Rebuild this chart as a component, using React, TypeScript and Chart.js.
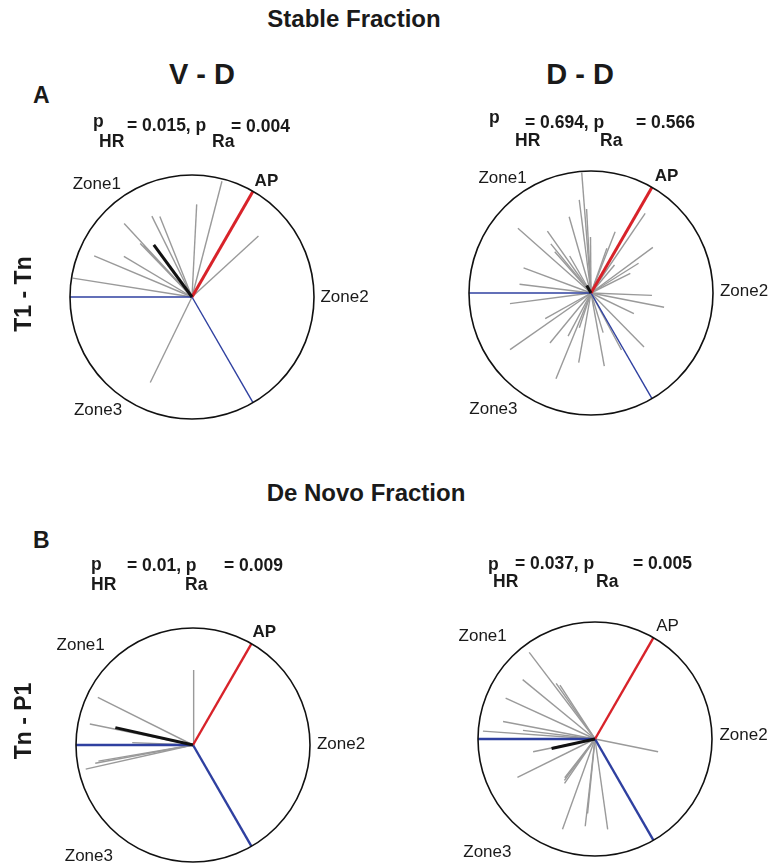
import React, { useEffect, useRef } from "react";
import { Chart, registerables } from "chart.js";

Chart.register(...registerables);

// Directions are degrees clockwise from 12 o'clock; lengths are fractions of the circle radius.
const apDirection = 30;
const zoneEdgeDirections = [150, 270];

// Stable fraction, V - D
const stableVDAngles = [14.5, 2.9, 47.4, 338.2, 333.6, 317.3, 315.9, 316.8, 292.8, 300.8, 279, 206];
const stableVDLengths = [0.98, 0.76, 0.74, 0.71, 0.74, 0.82, 0.61, 0.58, 0.87, 0.65, 0.99, 0.78];
const stableVDMean = { angle: 323.8, length: 0.53 };

// Stable fraction, D - D
const stableDDAngles = [
  355.6, 352.8, 357, 359.5, 344, 311.5, 324.8, 320.7, 318.7, 290.5, 277, 21.5, 19.5, 34.2, 53.6, 58, 63.6,
  262.5, 240.8, 235, 219.4, 202.2, 198.6, 190, 169.7, 163, 151.9, 135.5, 115.7, 101, 92.2, 208, 330, 40,
];
const stableDDLengths = [
  0.99, 0.77, 0.69, 0.46, 0.65, 0.8, 0.62, 0.52, 0.45, 0.59, 0.59, 0.54, 0.39, 0.79, 0.63, 0.46, 0.36,
  0.67, 0.43, 0.81, 0.53, 0.76, 0.3, 0.58, 0.61, 0.34, 0.53, 0.62, 0.39, 0.61, 0.5, 0.4, 0.35, 0.3,
];
const stableDDMean = { angle: 330, length: 0.07 };

// De novo fraction, V - D
const deNovoVDAngles = [0.5, 296.6, 281.5, 272.2, 259.4, 260.3, 257.3];
const deNovoVDLengths = [0.64, 0.91, 0.9, 0.52, 0.85, 0.82, 0.94];
const deNovoVDMean = { angle: 282.6, length: 0.68 };

// De novo fraction, D - D
const deNovoDDAngles = [322.8, 309.4, 325.1, 327, 294.6, 280.8, 274, 276.8, 101.4, 258.4, 243.6, 214.5, 216.5, 218, 199.8, 186.4, 185.7, 172];
const deNovoDDLengths = [0.93, 0.8, 0.58, 0.55, 0.84, 0.8, 0.96, 0.62, 0.55, 0.54, 0.74, 0.46, 0.44, 0.42, 0.82, 0.75, 0.64, 0.78];
const deNovoDDMean = { angle: 257.6, length: 0.38 };

const FONT = '"Liberation Sans", Arial, Helvetica, sans-serif';
const GRAY = "#9a9a9a";
const RED = "#d8232a";
const BLUE = "#2f40a0";
const MEAN = "#111111";

type Vec = { angle: number; length: number };
type LabelPos = [number, number];

interface PanelProps {
  cx: number;
  cy: number;
  r: number;
  angles: number[];
  lengths: number[];
  mean: Vec;
  edgeWidth: number;
  apWidth: number;
  apBold: boolean;
  labels: { zone1: LabelPos; ap: LabelPos; zone2: LabelPos; zone3: LabelPos };
}

const PAD = 60;

function toXY(angle: number, length: number) {
  const t = (angle * Math.PI) / 180;
  return { x: length * Math.sin(t), y: length * Math.cos(t) };
}

function ray(angle: number, length: number, color: string, width: number, order: number) {
  return {
    data: [{ x: 0, y: 0 }, toXY(angle, length)],
    showLine: true,
    borderColor: color,
    borderWidth: width,
    pointRadius: 0,
    pointHoverRadius: 0,
    clip: 6,
    order,
  };
}

function CirclePanel(props: PanelProps) {
  const ref = useRef<HTMLCanvasElement | null>(null);
  const size = 2 * (props.r + PAD);

  useEffect(() => {
    if (!ref.current) return;
    const datasets: any[] = [];
    props.angles.forEach((a, i) => datasets.push(ray(a, props.lengths[i], GRAY, 1.4, 4)));
    zoneEdgeDirections.forEach((a) => datasets.push(ray(a, 1, BLUE, props.edgeWidth, 2)));
    datasets.push(ray(apDirection, 1, RED, props.apWidth, 1));
    datasets.push(ray(props.mean.angle, props.mean.length, MEAN, 3, 0));

    const labels = props.labels;
    const ringAndLabels = {
      id: "ringAndLabels",
      afterDatasetsDraw(chart: any) {
        const ctx = chart.ctx as CanvasRenderingContext2D;
        const xs = chart.scales.x;
        const ys = chart.scales.y;
        const x0 = xs.getPixelForValue(0);
        const y0 = ys.getPixelForValue(0);
        const rad = xs.getPixelForValue(1) - x0;
        ctx.save();
        ctx.beginPath();
        ctx.arc(x0, y0, rad, 0, Math.PI * 2);
        ctx.strokeStyle = "#111";
        ctx.lineWidth = 1.6;
        ctx.stroke();
        ctx.fillStyle = "#1a1a1a";
        ctx.textAlign = "center";
        ctx.textBaseline = "middle";
        const put = (text: string, p: LabelPos, bold: boolean) => {
          ctx.font = `${bold ? "bold " : ""}17px ${FONT}`;
          ctx.fillText(text, xs.getPixelForValue(p[0]), ys.getPixelForValue(p[1]));
        };
        put("Zone1", labels.zone1, false);
        put("AP", labels.ap, props.apBold);
        put("Zone2", labels.zone2, false);
        put("Zone3", labels.zone3, false);
        ctx.restore();
      },
    };

    const chart = new Chart(ref.current, {
      type: "scatter",
      data: { datasets },
      options: {
        responsive: false,
        animation: false,
        devicePixelRatio: 1,
        layout: { padding: PAD },
        scales: {
          x: { type: "linear", min: -1, max: 1, display: false },
          y: { type: "linear", min: -1, max: 1, display: false },
        },
        plugins: { legend: { display: false }, tooltip: { enabled: false } },
        events: [],
      },
      plugins: [ringAndLabels],
    });
    return () => chart.destroy();
  }, []);

  return (
    <canvas
      ref={ref}
      width={size}
      height={size}
      style={{ position: "absolute", left: props.cx - props.r - PAD, top: props.cy - props.r - PAD, width: size, height: size }}
    />
  );
}

function Txt(p: { x: number; y: number; size: number; bold?: boolean; center?: boolean; children: React.ReactNode }) {
  return (
    <div
      style={{
        position: "absolute",
        left: p.x,
        top: p.y,
        fontFamily: FONT,
        fontSize: p.size,
        fontWeight: p.bold === false ? 400 : 700,
        lineHeight: 1,
        whiteSpace: "nowrap",
        color: "#1a1a1a",
        transform: p.center ? "translateX(-50%)" : undefined,
      }}
    >
      {p.children}
    </div>
  );
}

// p-value pieces placed by their baselines: main text and subscripts
const PV = 17.5;
function Base(p: { x: number; base: number; children: React.ReactNode }) {
  return (
    <Txt x={p.x} y={p.base - 0.8465 * PV} size={PV}>
      {p.children}
    </Txt>
  );
}

function RowLabel(p: { x: number; y: number; text: string }) {
  return (
    <div
      style={{
        position: "absolute",
        left: p.x,
        top: p.y,
        fontFamily: FONT,
        fontSize: 23,
        fontWeight: 700,
        lineHeight: 1,
        whiteSpace: "nowrap",
        color: "#1a1a1a",
        transform: "translate(-50%, -50%) rotate(-90deg)",
      }}
    >
      {p.text}
    </div>
  );
}

export default function App() {
  return (
    <div style={{ position: "absolute", left: 0, top: 0, width: 771, height: 867, overflow: "hidden", background: "#fff" }}>
      <CirclePanel
        cx={192}
        cy={297}
        r={122}
        angles={stableVDAngles}
        lengths={stableVDLengths}
        mean={stableVDMean}
        edgeWidth={1.4}
        apWidth={3}
        apBold={true}
        labels={{ zone1: [-0.78, 0.92], ap: [0.61, 0.95], zone2: [1.25, 0], zone3: [-0.77, -0.93] }}
      />
      <CirclePanel
        cx={591}
        cy={293}
        r={122}
        angles={stableDDAngles}
        lengths={stableDDLengths}
        mean={stableDDMean}
        edgeWidth={1.4}
        apWidth={3}
        apBold={true}
        labels={{ zone1: [-0.725, 0.94], ap: [0.62, 0.96], zone2: [1.254, 0.01], zone3: [-0.8, -0.95] }}
      />
      <CirclePanel
        cx={193}
        cy={745}
        r={117}
        angles={deNovoVDAngles}
        lengths={deNovoVDLengths}
        mean={deNovoVDMean}
        edgeWidth={2.4}
        apWidth={2.4}
        apBold={true}
        labels={{ zone1: [-0.96, 0.85], ap: [0.61, 0.96], zone2: [1.265, 0.01], zone3: [-0.89, -0.95] }}
      />
      <CirclePanel
        cx={595}
        cy={739}
        r={117}
        angles={deNovoDDAngles}
        lengths={deNovoDDLengths}
        mean={deNovoDDMean}
        edgeWidth={2.4}
        apWidth={2.4}
        apBold={false}
        labels={{ zone1: [-0.96, 0.88], ap: [0.62, 0.96], zone2: [1.27, 0.03], zone3: [-0.92, -0.97] }}
      />

      <Txt x={354} y={7} size={24} center>Stable Fraction</Txt>
      <Txt x={366} y={481} size={24} center>De Novo Fraction</Txt>
      <Txt x={202} y={60} size={29} center>V - D</Txt>
      <Txt x={580} y={60} size={29} center>D - D</Txt>
      <Txt x={33} y={84} size={23}>A</Txt>
      <Txt x={33} y={529} size={23}>B</Txt>
      <RowLabel x={23} y={294} text="T1 - Tn" />
      <RowLabel x={23} y={721} text="Tn - P1" />

      {/* Stable V - D */}
      <Base x={93} base={128}>p</Base>
      <Base x={99} base={148}>HR</Base>
      <Base x={127} base={132}>= 0.015, p</Base>
      <Base x={212} base={148}>Ra</Base>
      <Base x={231} base={133}>= 0.004</Base>

      {/* Stable D - D */}
      <Base x={489} base={124}>p</Base>
      <Base x={515} base={147}>HR</Base>
      <Base x={525} base={129}>= 0.694, p</Base>
      <Base x={600} base={147}>Ra</Base>
      <Base x={636} base={129}>= 0.566</Base>

      {/* De novo V - D */}
      <Base x={91} base={571}>p</Base>
      <Base x={91} base={591}>HR</Base>
      <Base x={127} base={572}>= 0.01, p</Base>
      <Base x={185} base={591}>Ra</Base>
      <Base x={224} base={572}>= 0.009</Base>

      {/* De novo D - D */}
      <Base x={488} base={571}>p</Base>
      <Base x={493} base={588}>HR</Base>
      <Base x={515} base={570}>= 0.037, p</Base>
      <Base x={596} base={588}>Ra</Base>
      <Base x={633} base={570}>= 0.005</Base>
    </div>
  );
}
